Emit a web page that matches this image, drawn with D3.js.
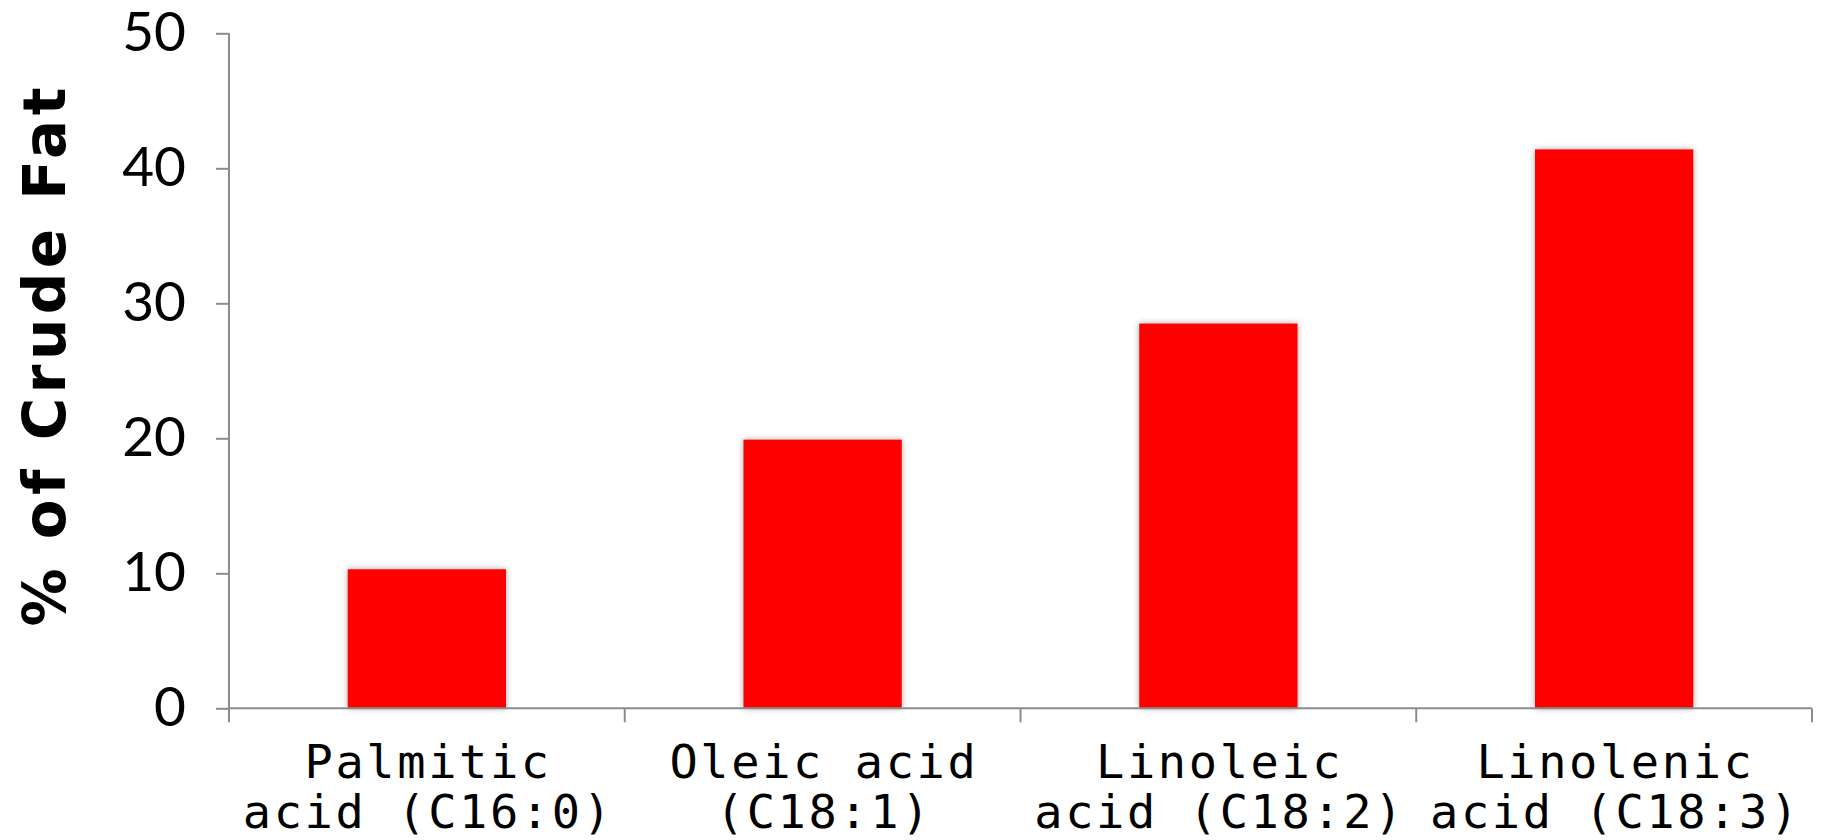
<!DOCTYPE html>
<html>
<head>
<meta charset="utf-8">
<script src="https://cdn.jsdelivr.net/npm/d3@7"></script>
<style>
  html, body { margin: 0; padding: 0; background: #ffffff; }
  svg { display: block; }
</style>
</head>
<body>
<svg id="chart" width="1821" height="840"></svg>
<script>
const categories = ["Palmitic acid (C16:0)", "Oleic acid (C18:1)", "Linoleic acid (C18:2)", "Linolenic acid (C18:3)"];
const labelLine1 = ["Palmitic", "Oleic acid", "Linoleic", "Linolenic"];
const labelLine2 = ["acid (C16:0)", "(C18:1)", "acid (C18:2)", "acid (C18:3)"];
const values = [10.3, 19.9, 28.5, 41.4];
const yTicks = [0, 10, 20, 30, 40, 50];
const yTitle = "% of Crude Fat";

(function () {
const svg = d3.select("#chart");
const mLeft = 229, mRight = 1812, mTop = 33.3, mBottom = 708.3;
const axisColor = "#8c8c8c";

const defs = svg.append("defs");
const f = defs.append("filter").attr("id", "shadow")
  .attr("x", "-10%").attr("y", "-10%").attr("width", "120%").attr("height", "120%");
f.append("feDropShadow").attr("dx", 0).attr("dy", 0).attr("stdDeviation", 3)
  .attr("flood-color", "#000").attr("flood-opacity", 0.35);

const x = d3.scaleBand().domain(categories).range([mLeft, mRight])
  .paddingInner(0.6).paddingOuter(0.3);
const y = d3.scaleLinear().domain([0, 50]).range([mBottom, mTop]);

// bars
svg.append("g").selectAll("rect").data(values).join("rect")
  .attr("x", (d, i) => x(categories[i]))
  .attr("width", x.bandwidth())
  .attr("y", d => y(d))
  .attr("height", d => y(0) - y(d))
  .attr("fill", "#ff0000")
  .attr("filter", "url(#shadow)");

// y axis
const yAxis = svg.append("g").attr("transform", `translate(${mLeft},0)`)
  .call(d3.axisLeft(y).tickValues(yTicks).tickSize(13).tickPadding(30).tickFormat(d3.format("d")));
yAxis.select(".domain").remove();
yAxis.append("line").attr("x1", 0).attr("x2", 0).attr("y1", mTop).attr("y2", mBottom + 14)
  .attr("stroke", axisColor).attr("stroke-width", 2);
yAxis.selectAll(".tick line").attr("stroke", axisColor).attr("stroke-width", 2);
yAxis.selectAll(".tick text")
  .attr("fill", "#000")
  .style("font-family", "Lato, 'Open Sans', sans-serif")
  .style("font-size", "55px");

// x axis with boundary ticks
const xg = svg.append("g");
xg.append("line").attr("x1", mLeft).attr("x2", mRight).attr("y1", mBottom).attr("y2", mBottom)
  .attr("stroke", axisColor).attr("stroke-width", 2);
const edges = categories.map(c => x(c) + x.bandwidth() / 2 + x.step() / 2);
xg.selectAll("line.tk").data(edges).join("line").attr("class", "tk")
  .attr("x1", d => d).attr("x2", d => d).attr("y1", mBottom).attr("y2", mBottom + 14)
  .attr("stroke", axisColor).attr("stroke-width", 2);

// x labels
const lab = svg.append("g").selectAll("text").data(categories).join("text")
  .attr("text-anchor", "middle")
  .style("font-family", "'DejaVu Sans Mono', 'Liberation Mono', monospace")
  .style("font-size", "47px")
  .style("letter-spacing", "2.6px")
  .attr("fill", "#000");
lab.append("tspan").attr("x", d => x(d) + x.bandwidth() / 2 + 1.3).attr("y", 778)
  .text((d, i) => labelLine1[i]);
lab.append("tspan").attr("x", d => x(d) + x.bandwidth() / 2 + 1.3).attr("y", 828)
  .text((d, i) => labelLine2[i]);

// y title
svg.append("text")
  .attr("transform", "translate(65,357) rotate(-90)")
  .attr("text-anchor", "middle")
  .style("font-family", "'DejaVu Sans', Verdana, sans-serif")
  .style("font-weight", "bold")
  .style("font-size", "58px")
  .attr("textLength", 539)
  .attr("lengthAdjust", "spacing")
  .attr("fill", "#000")
  .text(yTitle);
})();
</script>
</body>
</html>
